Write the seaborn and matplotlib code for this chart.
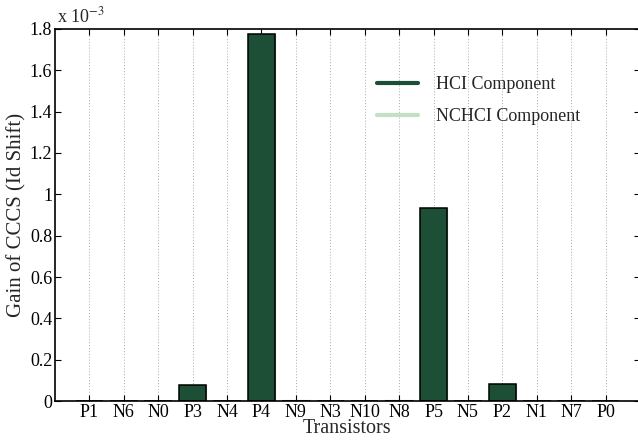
import matplotlib
matplotlib.use("Agg")
import matplotlib.pyplot as plt
import seaborn as sns
import pandas as pd
from matplotlib.lines import Line2D

transistors = ["P1", "N6", "N0", "P3", "N4", "P4", "N9", "N3", "N10", "N8",
               "P5", "N5", "P2", "N1", "N7", "P0"]
hci = [0.0, 0.0, 0.0, 0.077, 0.0, 1.776, 0.0, 0.0, 0.0, 0.0,
       0.934, 0.0, 0.081, 0.0, 0.0, 0.0]          # x 1e-3
nchci = [0.0, 0.0, 0.0, 0.0, 0.0, 0.0, 0.006, 0.0, 0.0, 0.006,
         0.0, 0.0, 0.0, 0.0, 0.0, 0.0]            # x 1e-3
yticks = [0, 0.2, 0.4, 0.6, 0.8, 1, 1.2, 1.4, 1.6, 1.8]
yticklabels = ["0", "0.2", "0.4", "0.6", "0.8", "1", "1.2", "1.4", "1.6", "1.8"]

dark = "#1c4f36"
light = "#c2e0c4"

sns.set_style("white")
plt.rcParams["font.family"] = ["Liberation Serif", "DejaVu Serif"]
plt.rcParams["mathtext.fontset"] = "stix"

df = pd.DataFrame({"t": transistors, "hci": hci,
                   "total": [a + b for a, b in zip(hci, nchci)]})

fig = plt.figure(figsize=(6.38, 4.41), dpi=100)
ax = fig.add_axes([55/638, 40/441, 585/638, 372/441])

sns.barplot(data=df, x="t", y="total", color=light, saturation=1, width=0.8,
            edgecolor="#999999", linewidth=0.8, ax=ax, order=transistors)
sns.barplot(data=df, x="t", y="hci", color=dark, saturation=1, width=0.8,
            edgecolor="black", linewidth=1.1, ax=ax, order=transistors)

ax.set_xlim(-1, 16)
ax.set_ylim(0, 1.8)
ax.set_yticks(yticks)
ax.set_yticklabels(yticklabels, fontsize=13)
ax.set_xticks(range(len(transistors)))
ax.set_xticklabels(transistors, fontsize=13)
ax.tick_params(direction="in", length=4, width=0.8, top=True, right=True,
               bottom=True, left=True, pad=2, colors="black")
ax.xaxis.grid(True, linestyle=(0, (1, 2)), color="#aaaaaa", linewidth=0.7)
ax.yaxis.grid(False)
ax.set_axisbelow(True)
for s in ax.spines.values():
    s.set_color("black")
    s.set_linewidth(1.2)

ax.set_xlabel("Transistors", fontsize=14.5, labelpad=-1)
ax.set_ylabel("Gain of CCCS (Id Shift)", fontsize=15, labelpad=2)
ax.text(0.003, 1.006, r"x 10$^{-3}$", transform=ax.transAxes, fontsize=13,
        ha="left", va="bottom")

handles = [Line2D([], [], color=dark, lw=3), Line2D([], [], color=light, lw=3)]
ax.legend(handles, ["HCI Component", "NCHCI Component"], loc="upper left",
          bbox_to_anchor=(0.544, 0.883), frameon=False, fontsize=13,
          handlelength=2.3, labelspacing=0.85, handletextpad=0.95,
          borderaxespad=0, borderpad=0.2)

fig.savefig("out.png", dpi=100)
